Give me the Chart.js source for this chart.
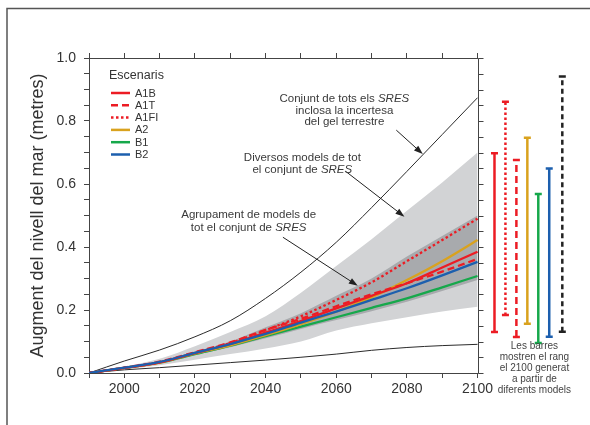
<!DOCTYPE html>
<html>
<head>
<meta charset="utf-8">
<script src="https://cdn.jsdelivr.net/npm/chart.js@4.4.1/dist/chart.umd.min.js"></script>
<style>
  html, body { margin: 0; padding: 0; background: #fff; }
  canvas { display: block; }
</style>
</head>
<body>
<canvas id="myChart" width="590" height="425"></canvas>
<script>
// anys de l'eix X
var years = [1990, 2000, 2010, 2020, 2030, 2040, 2050, 2060, 2070, 2080, 2090, 2100];

// escenaris SRES (augment en metres)
var serieA1B  = [0, 0.016, 0.034, 0.063, 0.092, 0.128, 0.165, 0.205, 0.245, 0.285, 0.335, 0.385];
var serieA1T  = [0, 0.017, 0.036, 0.066, 0.097, 0.137, 0.172, 0.212, 0.250, 0.285, 0.322, 0.362];
var serieA1FI = [0, 0.016, 0.034, 0.064, 0.095, 0.136, 0.180, 0.232, 0.288, 0.355, 0.422, 0.490];
var serieA2   = [0, 0.016, 0.033, 0.062, 0.088, 0.120, 0.155, 0.195, 0.240, 0.295, 0.355, 0.422];
var serieB1   = [0, 0.016, 0.033, 0.060, 0.087, 0.117, 0.147, 0.177, 0.207, 0.237, 0.272, 0.308];
var serieB2   = [0, 0.017, 0.035, 0.064, 0.092, 0.124, 0.160, 0.195, 0.232, 0.269, 0.310, 0.353];

// franges d'incertesa
var darkHigh  = [0, 0.017, 0.036, 0.068, 0.100, 0.145, 0.190, 0.245, 0.300, 0.370, 0.435, 0.500];
var darkLow   = [0, 0.015, 0.031, 0.057, 0.082, 0.110, 0.140, 0.168, 0.196, 0.226, 0.260, 0.295];
var lightHigh = [0, 0.020, 0.045, 0.085, 0.130, 0.180, 0.255, 0.340, 0.425, 0.515, 0.605, 0.700];
var lightLow  = [0, 0.012, 0.025, 0.042, 0.060, 0.078, 0.100, 0.135, 0.158, 0.177, 0.195, 0.210];
var totalHigh = [0, 0.038, 0.073, 0.115, 0.166, 0.237, 0.320, 0.415, 0.525, 0.640, 0.757, 0.874];
var totalLow  = [0, 0.010, 0.017, 0.025, 0.033, 0.041, 0.050, 0.060, 0.072, 0.081, 0.087, 0.091];

// barres de rang el 2100
var barNames = ['A1B', 'A1FI', 'A1T', 'A2', 'B1', 'B2', 'Tots'];
var barLow   = [0.130, 0.184, 0.114, 0.156, 0.095, 0.115, 0.131];
var barHigh  = [0.698, 0.861, 0.676, 0.747, 0.568, 0.649, 0.941];

// etiquetes dels eixos
var xLabelYears = [2000, 2020, 2040, 2060, 2080, 2100];
var yLabelValues = [0, 0.2, 0.4, 0.6, 0.8, 1.0];

var scenarioNames = ['A1B', 'A1T', 'A1FI', 'A2', 'B1', 'B2'];
var scenarioValues = {A1B: serieA1B, A1T: serieA1T, A1FI: serieA1FI, A2: serieA2, B1: serieB1, B2: serieB2};

var FONT = "'Liberation Sans', Arial, sans-serif";
var RED = '#ec1c24', GOLD = '#d9a21e', GREEN = '#16a84b', BLUE = '#1c5fae';
var styles = {
  A1B:  {color: RED,   dash: []},
  A1T:  {color: RED,   dash: [7, 4]},
  A1FI: {color: RED,   dash: [2.5, 2.5]},
  A2:   {color: GOLD,  dash: []},
  B1:   {color: GREEN, dash: []},
  B2:   {color: BLUE,  dash: []},
  Tots: {color: '#222', dash: [5, 3.5]}
};

function pts(arr) {
  return years.map(function (yr, i) { return {x: yr, y: arr[i]}; });
}

// posicio horitzontal de cada barra (anys ficticis a la dreta del 2100)
function barX(i) {
  return 2104.8 + i * 3.1 + (i === 6 ? 0.6 : 0);
}

var datasets = [];

// linies d'escenaris (la primera queda a sobre)
['B2', 'A1B', 'A1T', 'A1FI', 'A2', 'B1'].forEach(function (name) {
  datasets.push({
    label: name,
    data: pts(scenarioValues[name]),
    borderColor: styles[name].color,
    borderDash: styles[name].dash,
    borderWidth: 2.3,
    pointRadius: 0,
    fill: false,
    cubicInterpolationMode: 'monotone'
  });
});

// barres de rang
barNames.forEach(function (name, i) {
  datasets.push({
    label: 'rang ' + name,
    data: [{x: barX(i), y: barLow[i]}, {x: barX(i), y: barHigh[i]}],
    borderColor: styles[name].color,
    borderDash: styles[name].dash,
    borderWidth: 2.5,
    pointStyle: 'line',
    pointRadius: 3.5,
    pointBorderWidth: 2.5,
    pointBorderColor: styles[name].color,
    tension: 0,
    fill: false
  });
});

// linies negres
[totalHigh, totalLow].forEach(function (arr) {
  datasets.push({
    data: pts(arr), borderColor: '#2b2b2b', borderWidth: 1, pointRadius: 0,
    fill: false, cubicInterpolationMode: 'monotone'
  });
});

// franges (fosca sobre clara)
datasets.push({data: pts(darkHigh), borderWidth: 0, pointRadius: 0, fill: '+1',
  backgroundColor: '#a8aaad', cubicInterpolationMode: 'monotone'});
datasets.push({data: pts(darkLow), borderWidth: 0, pointRadius: 0, fill: false,
  cubicInterpolationMode: 'monotone'});
datasets.push({data: pts(lightHigh), borderWidth: 0, pointRadius: 0, fill: '+1',
  backgroundColor: '#d2d3d5', cubicInterpolationMode: 'monotone'});
datasets.push({data: pts(lightLow), borderWidth: 0, pointRadius: 0, fill: false,
  cubicInterpolationMode: 'monotone'});

datasets.forEach(function (d) { d.xAxisID = 'x'; d.yAxisID = 'y'; });

function keepTo2100(scale) {
  scale.ticks = scale.ticks.filter(function (t) { return t.value <= 2100; });
}

function drawRich(ctx, text, cx, cy, size) {
  var parts = text.split(/(SRES)/).filter(function (p) { return p.length; });
  var widths = [], total = 0;
  parts.forEach(function (p) {
    ctx.font = (p === 'SRES' ? 'italic ' : '') + size + 'px ' + FONT;
    var w = ctx.measureText(p).width;
    widths.push(w);
    total += w;
  });
  var x = cx - total / 2;
  ctx.textAlign = 'left';
  ctx.textBaseline = 'middle';
  parts.forEach(function (p, i) {
    ctx.font = (p === 'SRES' ? 'italic ' : '') + size + 'px ' + FONT;
    ctx.fillText(p, x, cy);
    x += widths[i];
  });
}

function drawArrow(ctx, x1, y1, x2, y2) {
  var a = Math.atan2(y2 - y1, x2 - x1);
  ctx.beginPath();
  ctx.moveTo(x1, y1);
  ctx.lineTo(x2 - Math.cos(a) * 6, y2 - Math.sin(a) * 6);
  ctx.stroke();
  ctx.beginPath();
  ctx.moveTo(x2, y2);
  ctx.lineTo(x2 - Math.cos(a) * 9 + Math.sin(a) * 3.2, y2 - Math.sin(a) * 9 - Math.cos(a) * 3.2);
  ctx.lineTo(x2 - Math.cos(a) * 9 - Math.sin(a) * 3.2, y2 - Math.sin(a) * 9 + Math.cos(a) * 3.2);
  ctx.closePath();
  ctx.fill();
}

// anotacions en coordenades de dades (any, metres)
var notes = [
  {lines: ['Conjunt de tots els SRES', 'inclosa la incertesa', 'del gel terrestre'],
   x: 2062.3, y: [0.869, 0.831, 0.796], from: [2077, 0.771], to: [2084.5, 0.695]},
  {lines: ['Diversos models de tot', 'el conjunt de SRES'],
   x: 2050.4, y: [0.683, 0.646], from: [2062.8, 0.639], to: [2079.3, 0.496]},
  {lines: ['Agrupament de models de', 'tot el conjunt de SRES'],
   x: 2035.2, y: [0.502, 0.462], from: [2044.9, 0.431], to: [2066.1, 0.277]}
];
var barNote = ['Les barres', 'mostren el rang', 'el 2100 generat', 'a partir de', 'diferents models'];

var decor = {
  id: 'decor',
  beforeDraw: function (chart) {
    var ctx = chart.ctx;
    ctx.save();
    ctx.strokeStyle = '#555';
    ctx.lineWidth = 1.5;
    ctx.beginPath();
    ctx.moveTo(7, 430);
    ctx.lineTo(7, 8.5);
    ctx.lineTo(595, 8.5);
    ctx.stroke();
    ctx.restore();
  },
  afterDraw: function (chart) {
    var ctx = chart.ctx, area = chart.chartArea;
    var sx = chart.scales.x, sy = chart.scales.y;
    var xr = Math.round(sx.getPixelForValue(2100)) + 0.5;
    var xl = area.left;
    ctx.save();

    // marc del grafic fins al 2100
    ctx.strokeStyle = '#444';
    ctx.lineWidth = 1;
    ctx.beginPath();
    ctx.moveTo(xl, Math.round(area.top) + 0.5);
    ctx.lineTo(xr, Math.round(area.top) + 0.5);
    ctx.lineTo(xr, Math.round(area.bottom) + 0.5);
    ctx.lineTo(xl, Math.round(area.bottom) + 0.5);
    ctx.stroke();
    sy.ticks.forEach(function (t) {
      var py = Math.round(sy.getPixelForValue(t.value)) + 0.5;
      ctx.beginPath();
      ctx.moveTo(xr, py);
      ctx.lineTo(xr + 5, py);
      ctx.stroke();
    });

    // llegenda
    var lx = area.left + 20, ly = area.top + 18;
    ctx.fillStyle = '#333';
    ctx.font = '12.5px ' + FONT;
    ctx.textAlign = 'left';
    ctx.textBaseline = 'middle';
    ctx.fillText('Escenaris', lx, ly);
    scenarioNames.forEach(function (name, i) {
      var yy = ly + 17 + i * 12.3;
      ctx.strokeStyle = styles[name].color;
      ctx.lineWidth = 2.5;
      ctx.setLineDash(styles[name].dash);
      ctx.beginPath();
      ctx.moveTo(lx + 2, yy);
      ctx.lineTo(lx + 21, yy);
      ctx.stroke();
      ctx.setLineDash([]);
      ctx.font = '11px ' + FONT;
      ctx.fillStyle = '#333';
      ctx.fillText(name, lx + 26, yy + 0.5);
    });

    // anotacions amb fletxa
    ctx.fillStyle = '#3a3a3a';
    ctx.strokeStyle = '#222';
    ctx.lineWidth = 1;
    notes.forEach(function (n) {
      n.lines.forEach(function (txt, i) {
        drawRich(ctx, txt, sx.getPixelForValue(n.x), sy.getPixelForValue(n.y[i]), 11.5);
      });
      ctx.fillStyle = '#222';
      drawArrow(ctx, sx.getPixelForValue(n.from[0]), sy.getPixelForValue(n.from[1]),
        sx.getPixelForValue(n.to[0]), sy.getPixelForValue(n.to[1]));
      ctx.fillStyle = '#3a3a3a';
    });

    // nota de les barres
    ctx.fillStyle = '#444';
    ctx.font = '10px ' + FONT;
    ctx.textAlign = 'center';
    barNote.forEach(function (txt, i) {
      ctx.fillText(txt, sx.getPixelForValue(2116.1), area.bottom - 26.3 + i * 11);
    });
    ctx.restore();
  }
};

Chart.defaults.font.family = FONT;
Chart.defaults.color = '#333';

new Chart(document.getElementById('myChart').getContext('2d'), {
  type: 'line',
  data: {datasets: datasets},
  plugins: [decor],
  options: {
    responsive: false,
    animation: false,
    layout: {padding: {left: 0, right: 6, top: 0, bottom: 0}},
    plugins: {legend: {display: false}, tooltip: {enabled: false}},
    scales: {
      x: {
        type: 'linear', position: 'bottom', min: 1990, max: 2130,
        afterBuildTicks: keepTo2100,
        afterFit: function (s) { s.height = 52; },
        border: {display: false},
        grid: {drawOnChartArea: false, drawTicks: true, tickLength: 5, color: '#444'},
        ticks: {
          stepSize: 10, autoSkip: false, maxRotation: 0, padding: 3,
          font: {size: 14}, color: '#333',
          callback: function (v) { return xLabelYears.indexOf(v) >= 0 ? String(v) : ''; }
        }
      },
      xTop: {
        type: 'linear', axis: 'x', position: 'top', min: 1990, max: 2130,
        afterBuildTicks: keepTo2100,
        afterFit: function (s) { s.height = 58; },
        border: {display: false},
        grid: {drawOnChartArea: false, drawTicks: true, tickLength: 5, color: '#444'},
        ticks: {stepSize: 10, autoSkip: false, display: false}
      },
      y: {
        type: 'linear', position: 'left', min: 0, max: 1,
        afterFit: function (s) { s.width = 89; },
        border: {display: true, color: '#444', width: 1},
        grid: {drawOnChartArea: false, drawTicks: true, tickLength: 5, color: '#444'},
        title: {
          display: true, text: 'Augment del nivell del mar (metres)',
          font: {size: 18}, color: '#333', padding: {top: 27, bottom: 0}
        },
        ticks: {
          stepSize: 0.05, autoSkip: false, padding: 8, font: {size: 14}, color: '#333',
          callback: function (v) {
            for (var i = 0; i < yLabelValues.length; i++) {
              if (Math.abs(yLabelValues[i] - v) < 1e-6) return yLabelValues[i].toFixed(1);
            }
            return '';
          }
        }
      }
    }
  }
});
</script>
</body>
</html>
